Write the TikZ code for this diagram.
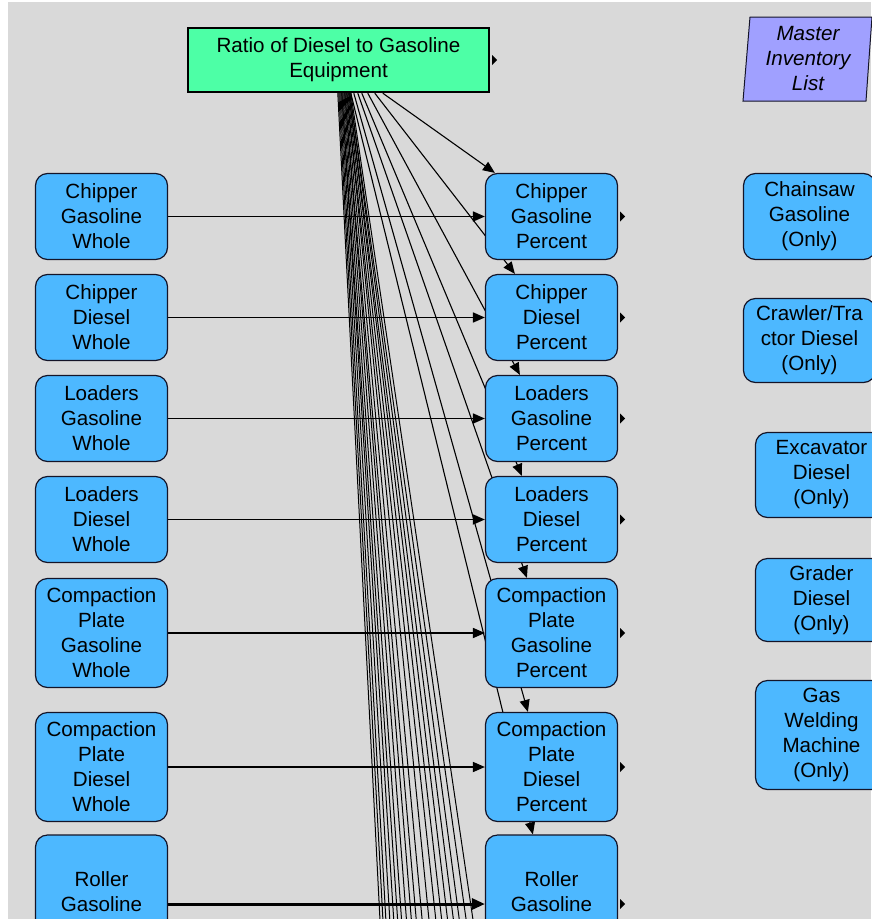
\documentclass[tikz,border=0pt]{standalone}
\usepackage{fontspec}
\setmainfont{Liberation Sans}
\usetikzlibrary{arrows.meta,calc}

\definecolor{canvasgrey}{RGB}{217,217,217}
\definecolor{stockblue}{RGB}{77,184,255}
\definecolor{ratiogreen}{RGB}{77,255,166}
\definecolor{listviolet}{RGB}{160,160,255}
\definecolor{edgedark}{RGB}{20,20,40}

\pgfdeclarelayer{canvas}
\pgfdeclarelayer{wires}
\pgfsetlayers{canvas,wires,main}

\tikzset{
  label font/.style={font=\fontsize{20.6}{25}\selectfont},
  stock/.style={draw=edgedark, line width=1.2pt, fill=stockblue,
    rounded corners=12pt, minimum width=132pt, inner sep=0pt,
    align=center, label font},
  ratiobox/.style={draw=black, line width=2.4pt, fill=ratiogreen,
    minimum width=301pt, minimum height=64pt, inner sep=0pt,
    align=center, label font},
  listtext/.style={align=center, inner sep=0pt,
    font=\fontsize{20.6}{25}\selectfont\itshape},
  link/.style={line width=1.1pt, -{Triangle[length=12pt,width=10pt]}},
  feed/.style={line width=1.7pt, -{Triangle[length=12pt,width=10pt]}},
  heavyfeed/.style={line width=3pt, -{Triangle[length=13pt,width=11pt]}},
  fanline/.style={line width=1pt},
  outtip/.style={fill=black},
}

\begin{document}
\begin{tikzpicture}[x=1pt,y=-1pt]
\useasboundingbox (0,0) rectangle (871,919);

% ---- stocks and converters ----
\node[ratiobox] (ratio) at (338.5,60) {Ratio of Diesel to Gasoline\\Equipment};

\node[listtext] (mil) at (808,59) {Master\\Inventory\\List};

% whole-quantity column
\node[stock, minimum height=86pt]  (cgw)  at (101.5,216.5) {Chipper\\Gasoline\\Whole};
\node[stock, minimum height=86pt]  (cdw)  at (101.5,317.5) {Chipper\\Diesel\\Whole};
\node[stock, minimum height=86pt]  (lgw)  at (101.5,418.5) {Loaders\\Gasoline\\Whole};
\node[stock, minimum height=86pt]  (ldw)  at (101.5,519.5) {Loaders\\Diesel\\Whole};
\node[stock, minimum height=109pt] (cpgw) at (101.5,633)   {Compaction\\Plate\\Gasoline\\Whole};
\node[stock, minimum height=109pt] (cpdw) at (101.5,767)   {Compaction\\Plate\\Diesel\\Whole};
\node[stock, minimum height=113pt] (rgw)  at (101.5,891.5) {Roller\\Gasoline};

% percent column
\node[stock, minimum height=86pt]  (cgp)  at (551.5,216.5) {Chipper\\Gasoline\\Percent};
\node[stock, minimum height=86pt]  (cdp)  at (551.5,317.5) {Chipper\\Diesel\\Percent};
\node[stock, minimum height=86pt]  (lgp)  at (551.5,418.5) {Loaders\\Gasoline\\Percent};
\node[stock, minimum height=86pt]  (ldp)  at (551.5,519.5) {Loaders\\Diesel\\Percent};
\node[stock, minimum height=109pt] (cpgp) at (551.5,633)   {Compaction\\Plate\\Gasoline\\Percent};
\node[stock, minimum height=109pt] (cpdp) at (551.5,767)   {Compaction\\Plate\\Diesel\\Percent};
\node[stock, minimum height=113pt] (rgp)  at (551.5,891.5) {Roller\\Gasoline};

% single-fuel equipment
\node[stock, minimum height=86pt]  (chs) at (809.5,216.5) {Chainsaw\\Gasoline\\(Only)};
\node[stock, minimum height=84pt]  (crw) at (809.5,340.5) {Crawler/Tra\\ctor Diesel\\(Only)};
\node[stock, minimum height=85pt]  (exc) at (821.5,475)   {Excavator\\Diesel\\(Only)};
\node[stock, minimum height=83pt]  (grd) at (821.5,600)   {Grader\\Diesel\\(Only)};
\node[stock, minimum height=109pt] (gwm) at (821.5,735)   {Gas\\Welding\\Machine\\(Only)};

% small outflow markers
\foreach \n in {cgp,cdp,lgp,ldp,cpgp,cpdp,ratio}
  \fill[outtip] ([shift={(2,-5)}]\n.east) -- ++(5,5) -- ++(-5,5) -- cycle;
\fill[outtip] ([shift={(2,7.5)}]rgp.east) -- ++(5,5) -- ++(-5,5) -- cycle;

% ---- background and list sheet ----
\begin{pgfonlayer}{canvas}
  \fill[white] (0,0) rectangle (871,919);
  \fill[canvasgrey] (8,2) rectangle (871,919);
  \filldraw[fill=listviolet, draw=edgedark, line width=1pt]
    ([shift={(-58,-42)}]mil.center) -- ([shift={(64,-42)}]mil.center)
    -- ([shift={(58,42)}]mil.center) -- ([shift={(-65,42)}]mil.center) -- cycle;
\end{pgfonlayer}

% ---- connectors ----
\begin{pgfonlayer}{wires}
  % whole -> percent
  \draw[feed] (cgw) -- (cgp);
  \draw[feed] (cdw) -- (cdp);
  \draw[feed] (lgw) -- (lgp);
  \draw[feed] (ldw) -- (ldp);
  \draw[feed] (cpgw) -- (cpgp);
  \draw[feed] (cpdw) -- (cpdp);
  \draw[heavyfeed] ([yshift=-12.5pt]rgw.east) -- ([yshift=-12.5pt]rgp.west);

  % ratio -> each percent stock
  \draw[link] ([xshift=196pt]ratio.south west) -- ([xshift=10pt]cgp.north west);
  \draw[link] ([xshift=188pt]ratio.south west) -- ([xshift=30pt]cdp.north west);
  \draw[link] ([xshift=181pt]ratio.south west) -- ([xshift=35pt]lgp.north west);
  \draw[link] ([xshift=175pt]ratio.south west) -- ([xshift=37pt]ldp.north west);
  \draw[link] ([xshift=171pt]ratio.south west) -- ([xshift=42pt]cpgp.north west);
  \draw[link] ([xshift=167pt]ratio.south west) -- ([xshift=43pt]cpdp.north west);
  \draw[link] ([xshift=164pt]ratio.south west) -- ([xshift=48pt]rgp.north west);

  % ratio -> stocks further down the list
  \foreach \o/\b [count=\i] in {151/381,152/384,153/387,154/391,155/395,
      155/399,156/403,157/408,158/413,158/418,159/424,160/431,160/438,
      161/444,162/450,162/456,163/462,163/469,164/476} {
    \coordinate (tail\i) at (\b,940);
    \draw[fanline] ([xshift=\o pt]ratio.south west) -- (tail\i);
  }
\end{pgfonlayer}
\end{tikzpicture}
\end{document}
